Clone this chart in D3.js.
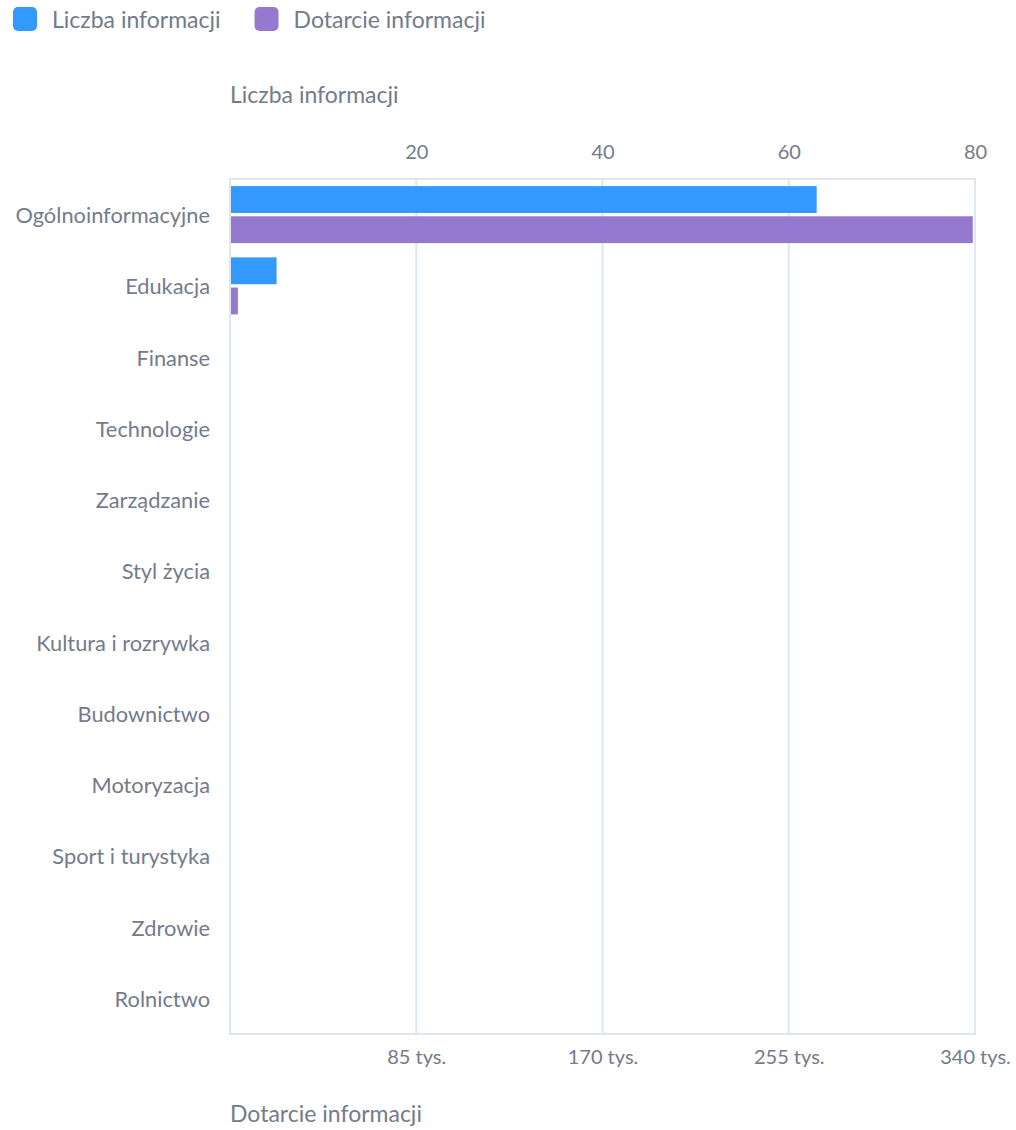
<!DOCTYPE html>
<html lang="pl">
<head>
<meta charset="utf-8">
<script src="https://cdn.jsdelivr.net/npm/d3@7"></script>
<style>
  html, body { margin: 0; padding: 0; background: #ffffff; }
  svg { display: block; font-family: Lato, "Open Sans", sans-serif; }
  .txt { fill: #737b8c; }
</style>
</head>
<body>
<svg id="chart" width="1016" height="1130"></svg>
<script>
// Categories (top to bottom)
const categories = [
  "Ogólnoinformacyjne", "Edukacja", "Finanse", "Technologie", "Zarządzanie",
  "Styl życia", "Kultura i rozrywka", "Budownictwo", "Motoryzacja",
  "Sport i turystyka", "Zdrowie", "Rolnictwo"
];
// Number of items per category
const liczbaInformacji = [63, 5, 0, 0, 0, 0, 0, 0, 0, 0, 0, 0];
// Reach per category
const dotarcieInformacji = [339000, 3600, 0, 0, 0, 0, 0, 0, 0, 0, 0, 0];
// Tick values for the two horizontal axes
const topTicks = [20, 40, 60, 80];
const bottomTicks = [85000, 170000, 255000, 340000];

const seriesNames = ["Liczba informacji", "Dotarcie informacji"];
const seriesColors = ["#3399ff", "#9479cf"];

const svg = d3.select("#chart");
const m = { left: 230, right: 975, top: 179, bottom: 1034 };

const xTop = d3.scaleLinear().domain([0, 80]).range([m.left, m.right]);
const xBottom = d3.scaleLinear().domain([0, 340000]).range([m.left, m.right]);
const y = d3.scaleBand().domain(categories).range([m.top, m.bottom])
  .paddingInner(0.2).paddingOuter(0.1);
const ySub = d3.scaleBand().domain([0, 1]).range([0, y.bandwidth()]).paddingInner(0.11);

const gridColor = "#dfe7ec";

// Vertical grid lines at tick positions
svg.append("g").selectAll("line").data(topTicks).join("line")
  .attr("x1", d => xTop(d)).attr("x2", d => xTop(d))
  .attr("y1", m.top).attr("y2", m.bottom)
  .attr("stroke", gridColor).attr("stroke-width", 2);

// Plot frame
svg.append("rect")
  .attr("x", m.left).attr("y", m.top)
  .attr("width", m.right - m.left).attr("height", m.bottom - m.top)
  .attr("fill", "none").attr("stroke", gridColor).attr("stroke-width", 2);

// Bars
const rows = categories.map((c, i) => ({ c, a: liczbaInformacji[i], b: dotarcieInformacji[i] }));
const bars = svg.append("g");
bars.selectAll("rect.a").data(rows).join("rect").attr("class", "a")
  .attr("x", m.left + 1)
  .attr("y", d => y(d.c) + ySub(0))
  .attr("width", d => Math.max(0, xTop(d.a) - m.left - 1))
  .attr("height", ySub.bandwidth())
  .attr("fill", seriesColors[0]);
bars.selectAll("rect.b").data(rows).join("rect").attr("class", "b")
  .attr("x", m.left + 1)
  .attr("y", d => y(d.c) + ySub(1))
  .attr("width", d => Math.max(0, xBottom(d.b) - m.left - 1))
  .attr("height", ySub.bandwidth())
  .attr("fill", seriesColors[1]);

// Category labels
const yAxis = svg.append("g").attr("transform", `translate(${m.left},1.5)`)
  .call(d3.axisLeft(y).tickSize(0).tickPadding(20));
yAxis.select(".domain").remove();
yAxis.selectAll("text").attr("class", "txt").attr("fill", null)
  .style("font-size", "21.8px").style("font-family", "Lato, sans-serif");

// Top axis
const topAxis = svg.append("g").attr("transform", `translate(0,${m.top})`)
  .call(d3.axisTop(xTop).tickValues(topTicks).tickSize(0).tickPadding(20));
topAxis.select(".domain").remove();
topAxis.selectAll("text").attr("class", "txt").attr("fill", null)
  .style("font-size", "20px").style("font-family", "Lato, sans-serif");

// Bottom axis
const fmt = d => (d / 1000) + " tys.";
const bottomAxis = svg.append("g").attr("transform", `translate(0,${m.bottom})`)
  .call(d3.axisBottom(xBottom).tickValues(bottomTicks).tickFormat(fmt).tickSize(0).tickPadding(16));
bottomAxis.select(".domain").remove();
bottomAxis.selectAll("text").attr("class", "txt").attr("fill", null)
  .style("font-size", "20px").style("font-family", "Lato, sans-serif");

// Axis titles
svg.append("text").attr("class", "txt").attr("x", m.left).attr("y", 103)
  .style("font-size", "23px").text(seriesNames[0]);
svg.append("text").attr("class", "txt").attr("x", m.left).attr("y", 1122)
  .style("font-size", "23px").text(seriesNames[1]);

// Legend
const legend = svg.append("g");
let lx = 13;
seriesNames.forEach((name, i) => {
  legend.append("rect").attr("x", lx).attr("y", 7).attr("width", 24).attr("height", 24)
    .attr("rx", 5).attr("fill", seriesColors[i]);
  const t = legend.append("text").attr("class", "txt").attr("x", lx + 39).attr("y", 28)
    .style("font-size", "23px").text(name);
  lx += 39 + t.node().getComputedTextLength() + 34;
});
</script>
</body>
</html>
